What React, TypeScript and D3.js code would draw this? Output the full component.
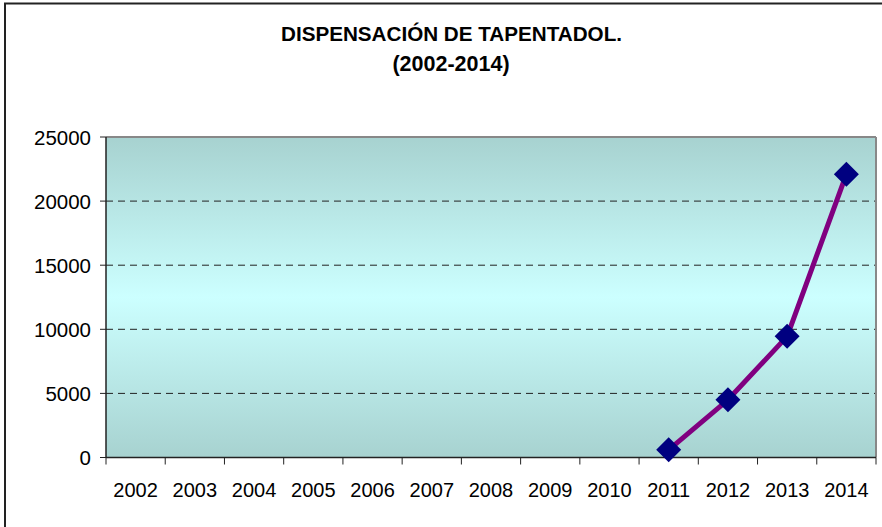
import React from "react";
import * as d3 from "d3";

const years = ["2002", "2003", "2004", "2005", "2006", "2007", "2008", "2009", "2010", "2011", "2012", "2013", "2014"];
const seriesYears = ["2011", "2012", "2013", "2014"];
const seriesValues = [600, 4500, 9450, 22100];
const yTicks = [0, 5000, 10000, 15000, 20000, 25000];
const titleLines = ["DISPENSACIÓN DE TAPENTADOL.", "(2002-2014)"];

export default function App() {
  const W = 882, H = 527;
  const left = 106, right = 876, top = 137, bottom = 457.5;
  const x = d3.scaleBand<string>().domain(years).range([left, right]).padding(0);
  const y = d3.scaleLinear().domain([0, 25000]).range([bottom, top]);
  const pts = seriesYears.map((yr, i) => [x(yr)! + x.bandwidth() / 2, y(seriesValues[i])] as [number, number]);
  const line = d3.line()(pts) || "";
  const font = "'Liberation Sans', Arial, sans-serif";
  const boundaries = years.map((yr) => x(yr)!).concat([right]);
  const titleBaselines = [41, 70.5];
  return (
    <svg width={W} height={H} style={{ position: "absolute", left: 0, top: 0, background: "#fff" }}>
      <defs>
        <linearGradient id="bg" x1="0" y1="0" x2="0" y2="1">
          <stop offset="0" stopColor="#a7d2d0" />
          <stop offset="0.5" stopColor="#ccffff" />
          <stop offset="1" stopColor="#a7d2d0" />
        </linearGradient>
      </defs>
      <rect x={0} y={0} width={W} height={H} fill="#fff" />
      <rect x={5} y={3.5} width={W + 20} height={H + 20} fill="none" stroke="#222" strokeWidth={2} />
      <text x={451.5} y={titleBaselines[0]} textAnchor="middle" fontFamily={font} fontWeight="bold" fontSize={21} textLength={341} lengthAdjust="spacingAndGlyphs" fill="#000">
        {titleLines[0]}
      </text>
      <text x={451} y={titleBaselines[1]} textAnchor="middle" fontFamily={font} fontWeight="bold" fontSize={21.5} fill="#000">
        {titleLines[1]}
      </text>
      <rect x={left} y={top} width={right - left} height={bottom - top} fill="url(#bg)" />
      {yTicks.filter((v) => v > 0 && v < 25000).map((v) => (
        <line key={v} x1={left} x2={right} y1={y(v)} y2={y(v)} stroke="#222" strokeWidth={1} strokeDasharray="7,5" />
      ))}
      <line x1={left} x2={right} y1={top} y2={top} stroke="#888" strokeWidth={2} />
      <line x1={right} x2={right} y1={top} y2={bottom} stroke="#888" strokeWidth={2} />
      <line x1={left} x2={left} y1={top} y2={bottom} stroke="#222" strokeWidth={1.5} />
      <line x1={left} x2={right} y1={bottom} y2={bottom} stroke="#222" strokeWidth={1.5} />
      {yTicks.map((v) => (
        <g key={v}>
          <line x1={left - 6} x2={left} y1={y(v)} y2={y(v)} stroke="#222" strokeWidth={1} />
          <text x={91} y={y(v) + 7.5} textAnchor="end" fontFamily={font} fontSize={20.5} fill="#000">
            {v}
          </text>
        </g>
      ))}
      {boundaries.map((b, i) => (
        <line key={i} x1={b} x2={b} y1={bottom} y2={bottom + 7} stroke="#222" strokeWidth={1} />
      ))}
      {years.map((yr) => (
        <text key={yr} x={x(yr)! + x.bandwidth() / 2} y={497} textAnchor="middle" fontFamily={font} fontSize={20} fill="#000">
          {yr}
        </text>
      ))}
      <path d={line} fill="none" stroke="#800080" strokeWidth={5} strokeLinejoin="round" />
      {pts.map((p, i) => (
        <path key={i} d={`M${p[0]},${p[1] - 12.5}L${p[0] + 12.5},${p[1]}L${p[0]},${p[1] + 12.5}L${p[0] - 12.5},${p[1]}Z`} fill="#000080" />
      ))}
    </svg>
  );
}
